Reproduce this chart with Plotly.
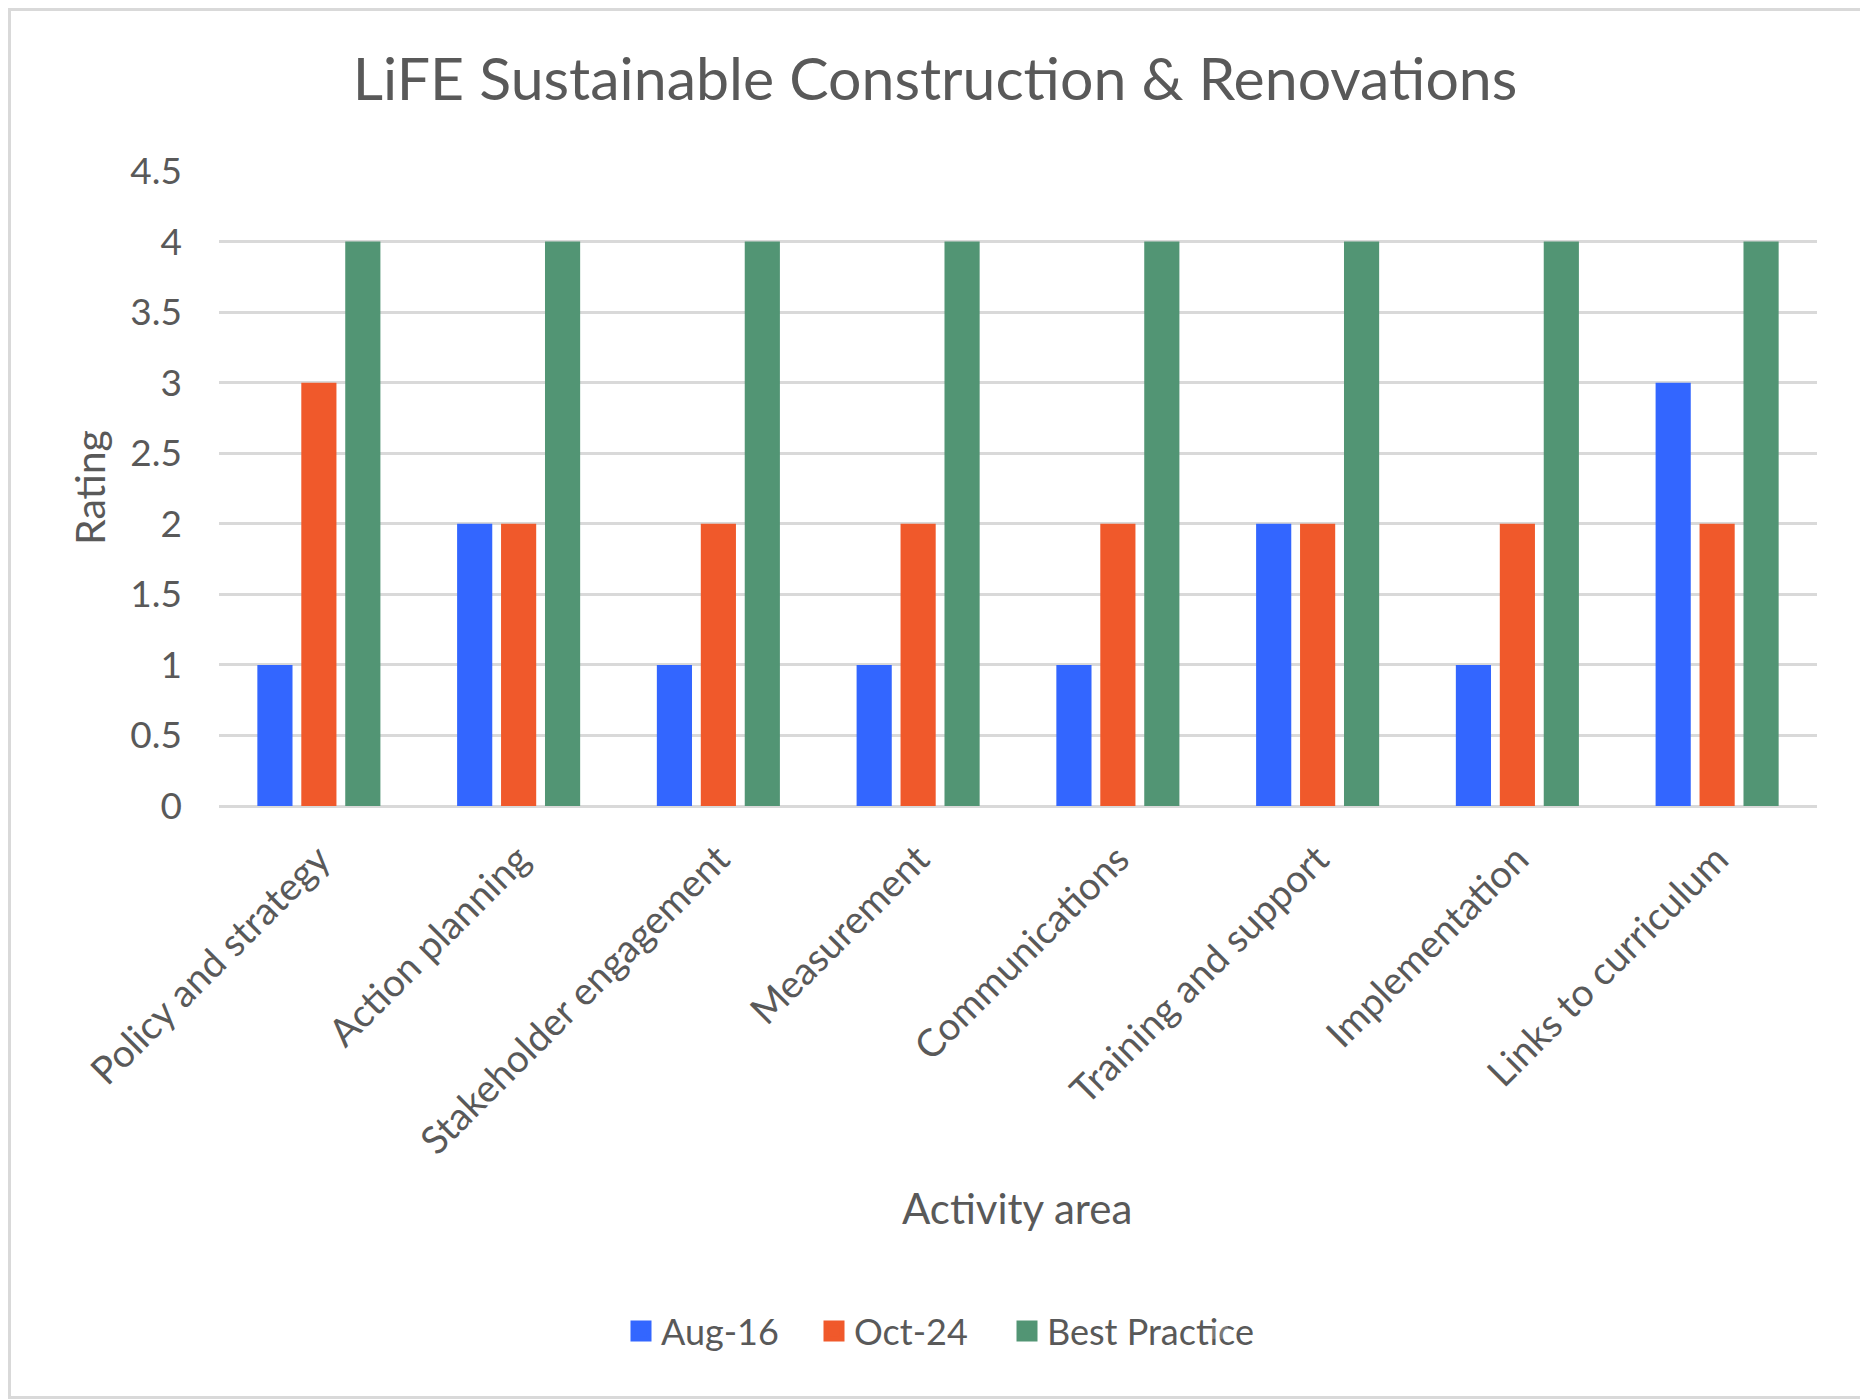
import plotly.graph_objects as go

categories = ["Policy and strategy", "Action planning", "Stakeholder engagement",
              "Measurement", "Communications", "Training and support",
              "Implementation", "Links to curriculum"]
aug16 = [1, 2, 1, 1, 1, 2, 1, 3]
oct24 = [3, 2, 2, 2, 2, 2, 2, 2]
best_practice = [4, 4, 4, 4, 4, 4, 4, 4]
series_names = ["Aug-16", "Oct-24", "Best Practice"]
colors = ["#3366ff", "#f0592b", "#529574"]

# page body has an 8px margin, so the figure is 8px smaller in each direction
OFF = 8
W, H = 1868 - OFF, 1399 - OFF
L = 219 - OFF
R = W - (1817 - OFF)
T = 171 - OFF
B = H - (806 - OFF)
FONT = "Lato"
TXT = "#595959"

fig = go.Figure()
for name, vals, col in zip(series_names, [aug16, oct24, best_practice], colors):
    fig.add_trace(go.Bar(x=categories, y=vals, name=name, marker_color=col,
                         marker_line_width=0, showlegend=False))
# legend entries with larger square swatches
for name, col in zip(series_names, colors):
    fig.add_trace(go.Scatter(x=[None], y=[None], mode="markers", name=name,
                             marker=dict(symbol="square", size=16, color=col,
                                         line=dict(color=col, width=5)),
                             showlegend=True, hoverinfo="skip"))
# spacer entry so the last legend label is not clipped by the fixed entry width
fig.add_trace(go.Scatter(x=[None], y=[None], mode="markers", name=" ",
                         marker=dict(symbol="square", size=16, opacity=0,
                                     color="white"),
                         showlegend=True, hoverinfo="skip"))

pw = W - L - R
ph = H - T - B
def px_x(px):
    return (px - OFF - L) / pw
def px_y(py):
    return (H - B - (py - OFF)) / ph

fig.update_layout(
    width=W, height=H,
    margin=dict(l=L, r=R, t=T, b=B),
    paper_bgcolor="white", plot_bgcolor="white",
    font=dict(family=FONT, color=TXT),
    barmode="group", bargap=0.34, bargroupgap=0.2,
    title=dict(text="LiFE Sustainable Construction &amp; Renovations",
               x=(935 - OFF) / W, xref="container", xanchor="center",
               y=1 - (79 - OFF) / H, yref="container", yanchor="middle",
               font=dict(size=59, color=TXT, family=FONT)),
    xaxis=dict(tickangle=-45, tickfont=dict(size=38.5, color=TXT),
               showgrid=False, showline=False, ticks="", ticklabelstandoff=22),
    yaxis=dict(range=[0, 4.5], dtick=0.5, tick0=0,
               tickfont=dict(size=37, color=TXT),
               gridcolor="#d9d9d9", gridwidth=2.5,
               zeroline=True, zerolinecolor="#d9d9d9", zerolinewidth=2.5,
               showline=False, ticks="", ticklabelstandoff=36),
    legend=dict(orientation="h", xref="container", yref="container",
                x=(621 - OFF) / W, xanchor="left",
                y=1 - (1331 - OFF) / H, yanchor="middle",
                font=dict(size=36, color=TXT), itemwidth=30,
                traceorder="normal", entrywidth=148),
    showlegend=True,
)

fig.add_annotation(text="Activity area", xref="paper", yref="paper",
                   x=px_x(1016.5), y=px_y(1208), xanchor="center", yanchor="middle",
                   showarrow=False, font=dict(size=42, color=TXT, family=FONT))
fig.add_annotation(text="Rating", xref="paper", yref="paper",
                   x=px_x(89), y=px_y(488), xanchor="center", yanchor="middle",
                   textangle=-90, showarrow=False,
                   font=dict(size=41, color=TXT, family=FONT))

fig.add_shape(type="rect", xref="paper", yref="paper",
              x0=px_x(OFF + 1.5), x1=px_x(OFF + W - 1.5),
              y0=px_y(OFF + H - 1.5), y1=px_y(OFF + 1.5),
              line=dict(color="#d9d9d9", width=3), fillcolor="rgba(0,0,0,0)",
              layer="below")

fig.write_html("out.html")
